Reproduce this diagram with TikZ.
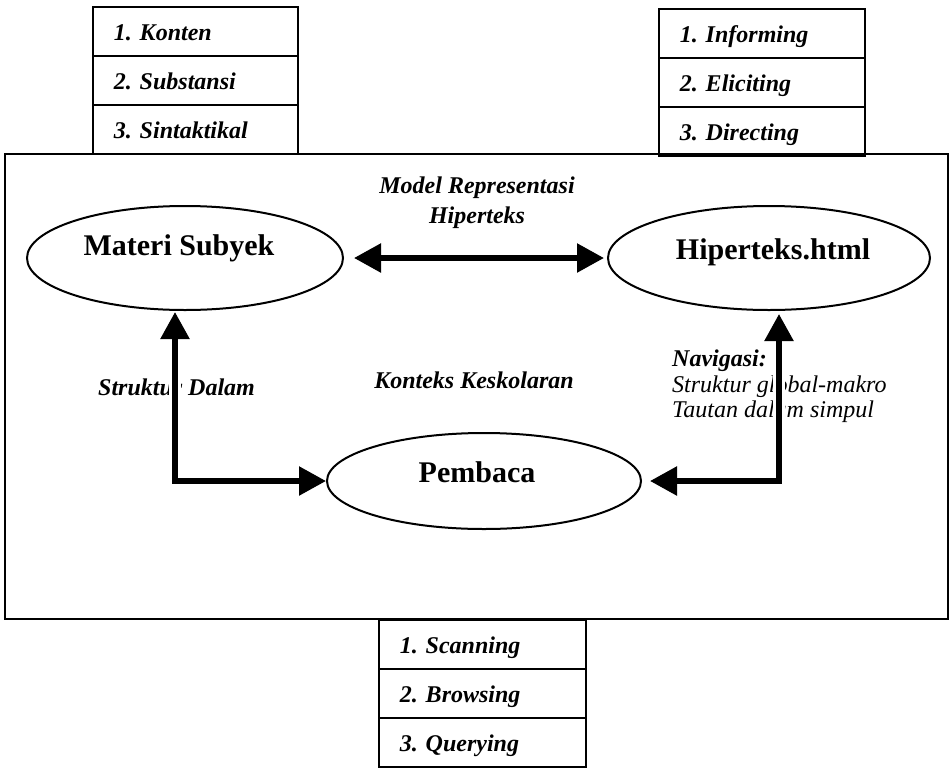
\documentclass[tikz,border=0pt]{standalone}
\usepackage{fontspec}
\setmainfont{Liberation Serif}
\usetikzlibrary{arrows.meta,shapes.geometric}

\begin{document}
\frenchspacing
\begin{tikzpicture}[x=1pt,y=-1pt,
  frame/.style={draw=black, line width=2pt},
  cell/.style={draw=black, line width=1.5pt, anchor=north west,
    minimum height=49pt, inner xsep=21pt, text height=19pt, text depth=0pt,
    align=left, font=\fontsize{24}{28}\selectfont\bfseries\itshape},
  oval/.style={draw=black, line width=2pt, ellipse, inner sep=0pt},
  big/.style={font=\fontsize{30}{35}\selectfont\bfseries, inner sep=0pt},
  lab/.style={font=\fontsize{24}{28}\selectfont\bfseries\itshape, inner sep=0pt},
  plain/.style={font=\fontsize{24}{28}\selectfont\itshape, inner sep=0pt},
  link/.style={line width=5.5pt,
    {Triangle[length=27pt,width=28pt]}-{Triangle[length=27pt,width=28pt]}},
  halo/.style={white, line width=12pt},
]
\useasboundingbox (0,0) rectangle (951,769);

% outer frame
\draw[frame] (5,154) rectangle (948,619);

% knowledge table (top left)
\node[cell, text width=163pt] (k1) at (92,6)   {1. Konten};
\node[cell, text width=163pt] (k2) at (92,55)  {2. Substansi};
\node[cell, text width=163pt] (k3) at (92,104) {3. Sintaktikal};

% speech-act table (top right)
\node[cell, text width=164pt] (s1) at (658,8)   {1. Informing};
\node[cell, text width=164pt] (s2) at (658,57)  {2. Eliciting};
\node[cell, text width=164pt] (s3) at (658,106) {3. Directing};

% reading table (bottom)
\node[cell, text width=165pt] (r1) at (378,619) {1. Scanning};
\node[cell, text width=165pt] (r2) at (378,668) {2. Browsing};
\node[cell, text width=165pt] (r3) at (378,717) {3. Querying};

% ellipses
\node[oval, minimum width=316pt, minimum height=104pt] (ms) at (185,258) {};
\node[oval, minimum width=322pt, minimum height=104pt] (hp) at (769,258) {};
\node[oval, minimum width=314pt, minimum height=96pt]  (pb) at (484,481) {};

\node[big, anchor=base] (lms) at (179,255) {Materi Subyek};
\node[big, anchor=base] (lhp) at (773,259) {Hiperteks.html};
\node[big, anchor=base] (lpb) at (477,482) {Pembaca};

% labels
\node[lab, anchor=base] (mr1) at (477,193) {Model Representasi};
\node[lab, anchor=base] (mr2) at (477,223) {Hiperteks};
\node[lab, anchor=base west] (sd) at (98,395) {Struktur Dalam};
\node[lab, anchor=base] (kk) at (474,388) {Konteks Keskolaran};
\node[lab, anchor=base west] (nv) at (672,366) {Navigasi:};
\node[plain, anchor=base west] (nv1) at (672,392) {Struktur global-makro};
\node[plain, anchor=base west] (nv2) at (672,417) {Tautan dalam simpul};

% bend points
\coordinate (cl) at (175,481);
\coordinate (cr) at (779,481);

% white gaps where the vertical arrows cross the labels
\draw[halo, shorten <=40pt, shorten >=10pt] (ms.south -| cl) -- (cl);
\draw[halo, shorten <=10pt, shorten >=40pt] (cr) -- (hp.south -| cr);

% connectors
\draw[link, shorten <=10pt, shorten >=3pt] (ms.east) -- (hp.west);
\draw[link, shorten <=1pt] (ms.south -| cl) -- (cl) -- (pb.west);
\draw[link, shorten <=8pt, shorten >=3pt] (pb.east) -- (cr) -- (hp.south -| cr);
\end{tikzpicture}
\end{document}
